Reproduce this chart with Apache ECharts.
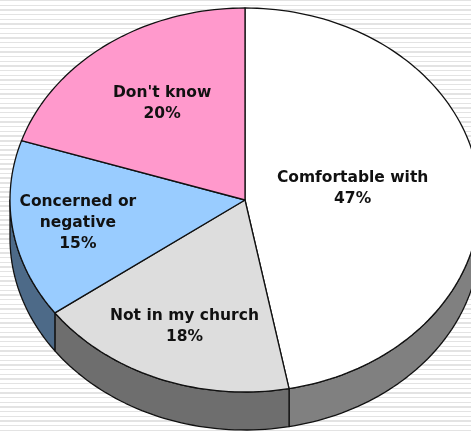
<!DOCTYPE html>
<html>
<head>
<meta charset="utf-8">
<style>
html,body{margin:0;padding:0;background:#fff;}
#c{width:471px;height:431px;background:repeating-linear-gradient(to bottom,#e3e3e3 0,#e3e3e3 1.4px,#ffffff 1.4px,#ffffff 4.67px);}
</style>
<script src="https://cdn.jsdelivr.net/npm/echarts@6/dist/echarts.min.js"></script>
</head>
<body>
<div id="c"></div>
<script>
var categories = ["Comfortable with", "Not in my church", "Concerned or\nnegative", "Don't know"];
var values = [47, 18, 15, 20];
var topColors = ["#ffffff", "#dddddd", "#99ccff", "#ff99cc"];
var wallColors = ["#808080", "#6e6e6e", "#4d6a88", "#994d7a"];
var labelRadius = [0.46, 0.70, 0.72, 0.60];
var labelShiftY = [-3.5, 1.5, 1, -3.5];

var CX = 245, CY = 200, RX = 235, RY = 192, DEPTH = 38;
var total = values.reduce(function (a, b) { return a + b; }, 0);

function pt(deg, dy, r) {
  var t = deg * Math.PI / 180, k = r === undefined ? 1 : r;
  return [CX + RX * k * Math.sin(t), CY - RY * k * Math.cos(t) + (dy || 0)];
}
function arc(a0, a1, dy) {
  var out = [], n = Math.max(2, Math.ceil(Math.abs(a1 - a0) / 1.5));
  for (var i = 0; i <= n; i++) out.push(pt(a0 + (a1 - a0) * i / n, dy));
  return out;
}

var chart = echarts.init(document.getElementById('c'), null, { renderer: 'canvas' });
chart.setOption({
  animation: false,
  backgroundColor: 'transparent',
  series: [{
    type: 'custom',
    coordinateSystem: 'none',
    silent: true,
    data: values.map(function (v, i) { return [i, v]; }),
    renderItem: function (params, api) {
      var i = api.value(0), v = api.value(1), before = 0;
      for (var k = 0; k < i; k++) before += values[k];
      var a0 = before / total * 360, a1 = (before + v) / total * 360;
      var children = [];
      var w0 = Math.max(a0, 90), w1 = Math.min(a1, 270);
      var line = { stroke: '#111111', lineWidth: 1.3, lineJoin: 'round' };
      if (w1 > w0) {
        var wall = arc(w0, w1, 0).concat(arc(w1, w0, DEPTH));
        children.push({
          type: 'polygon', z2: 1,
          shape: { points: wall },
          style: Object.assign({ fill: wallColors[i] }, line)
        });
      }
      var top = [[CX, CY]].concat(arc(a0, a1, 0));
      children.push({
        type: 'polygon', z2: 2,
        shape: { points: top },
        style: Object.assign({ fill: topColors[i] }, line)
      });
      var p = pt((a0 + a1) / 2, labelShiftY[i], labelRadius[i]);
      children.push({
        type: 'text', z2: 10,
        x: p[0], y: p[1],
        style: {
          text: categories[i] + '\n' + v + '%',
          fontFamily: '"DejaVu Sans"',
          fontWeight: 'bold',
          fontSize: 15.5,
          lineHeight: 21,
          fill: '#111111',
          align: 'center',
          verticalAlign: 'middle'
        }
      });
      return { type: 'group', children: children };
    }
  }]
});
</script>
</body>
</html>
